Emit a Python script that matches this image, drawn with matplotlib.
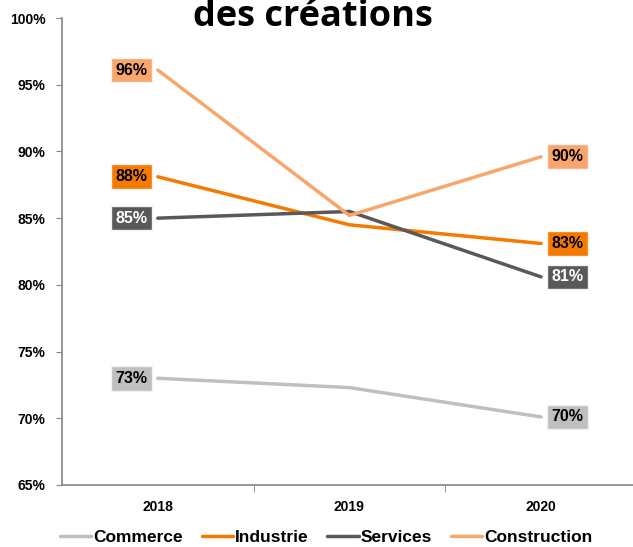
import matplotlib.pyplot as plt
from matplotlib.ticker import FixedLocator

# Data
years = ['2018', '2019', '2020']
commerce = [73.0, 72.3, 70.1]
industrie = [88.1, 84.5, 83.1]
services = [85.0, 85.5, 80.6]
construction = [96.1, 85.2, 89.6]
y_ticks = [65, 70, 75, 80, 85, 90, 95, 100]

series = [
    ('Commerce', commerce, '#BFBFBF', 'black'),
    ('Industrie', industrie, '#F47A00', 'black'),
    ('Services', services, '#595959', 'white'),
    ('Construction', construction, '#F9A66C', 'black'),
]

plt.rcParams['font.family'] = ['Liberation Sans', 'DejaVu Sans']

fig = plt.figure(figsize=(6.33, 5.47), dpi=100)
ax = fig.add_axes([62 / 633, 1 - 485 / 547, 1 - 62 / 633, (485 - 18) / 547])

x = list(range(len(years)))
for name, vals, color, txt in series:
    ax.plot(x, vals, color=color, lw=2.5, label=name, solid_capstyle='round')
    for i in (0, 2):
        dx = -19 if i == 0 else 19
        ax.annotate('{:.0f}%'.format(vals[i]), (x[i], vals[i]), xytext=(dx, 0),
                    textcoords='offset points', ha='center', va='center',
                    fontsize=11.5, fontweight='bold', color=txt,
                    bbox=dict(boxstyle='square,pad=0.3', fc=color, ec='#F2F2F2', lw=1))

ax.set_xlim(-0.5, 2.48)
ax.set_ylim(65, 100)
ax.set_yticks(y_ticks)
ax.set_yticklabels(['{}%'.format(t) for t in y_ticks])
ax.set_xticks(x)
ax.set_xticklabels(years)
ax.xaxis.set_minor_locator(FixedLocator([0.5, 1.5]))
ax.tick_params(axis='x', which='major', length=0, pad=11)
ax.tick_params(axis='x', which='minor', length=5, color='#868686', direction='out')
ax.tick_params(axis='y', length=4, color='#868686', pad=8)
for lab in ax.get_xticklabels() + ax.get_yticklabels():
    lab.set_fontweight('bold')
    lab.set_fontsize(10)
for s in ['top', 'right']:
    ax.spines[s].set_visible(False)
for s in ['left', 'bottom']:
    ax.spines[s].set_color('#868686')
    ax.spines[s].set_linewidth(1.2)

fig.legend(loc='center', bbox_to_anchor=(0.515, 1 - 537 / 547), ncol=4, frameon=False,
           prop={'weight': 'bold', 'size': 12.5}, handlelength=1.8, handletextpad=0.1,
           columnspacing=1.1)

fig.text(0.495, 1 - 26 / 547, 'des créations', ha='center', va='baseline',
         fontsize=26, fontweight='bold', family=['Open Sans', 'DejaVu Sans'])

fig.savefig('out.png', dpi=100)
